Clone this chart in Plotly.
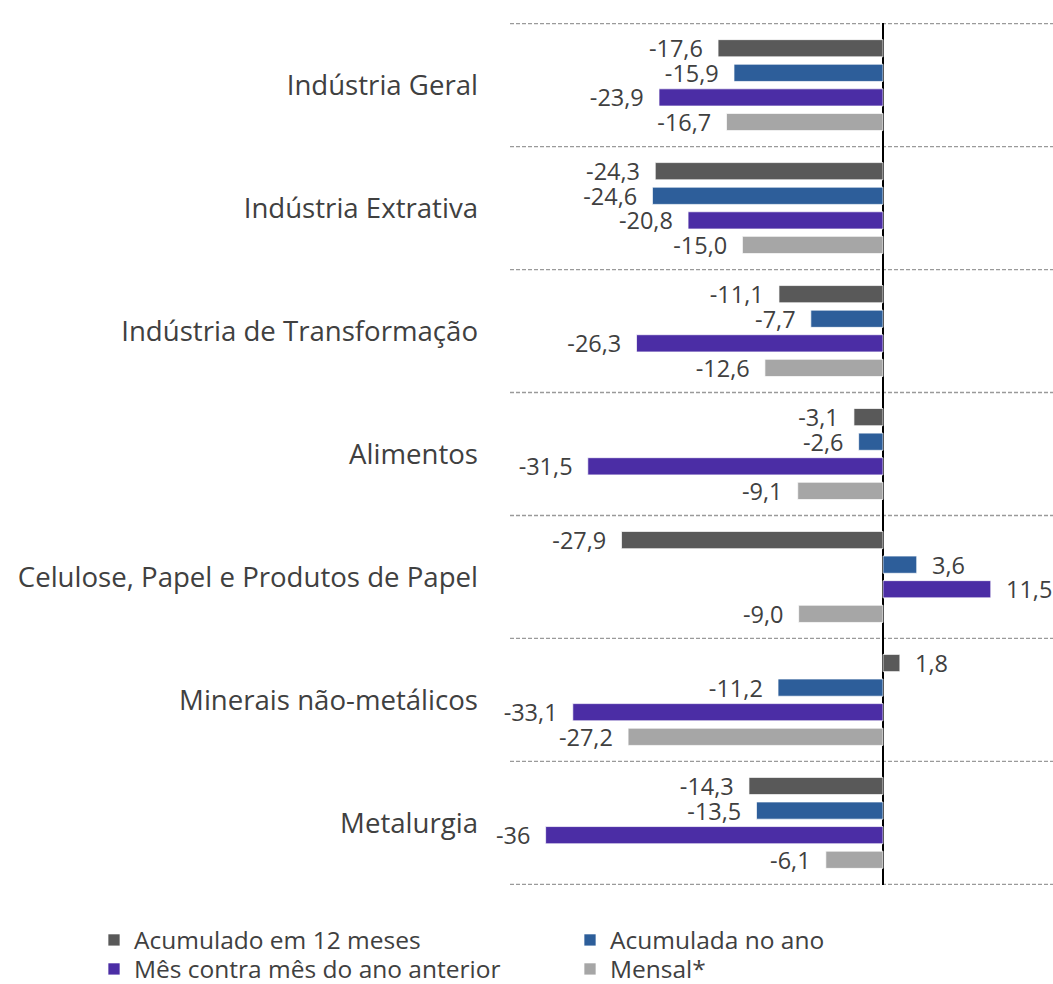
import plotly.graph_objects as go

categories = [
    "Indústria Geral",
    "Indústria Extrativa",
    "Indústria de Transformação",
    "Alimentos",
    "Celulose, Papel e Produtos de Papel",
    "Minerais não-metálicos",
    "Metalurgia",
]
series_names = [
    "Acumulado em 12 meses",
    "Acumulada no ano",
    "Mês contra mês do ano anterior",
    "Mensal*",
]
acum_12m = [-17.6, -24.3, -11.1, -3.1, -27.9, 1.8, -14.3]
acum_ano = [-15.9, -24.6, -7.7, -2.6, 3.6, -11.2, -13.5]
mes_mes = [-23.9, -20.8, -26.3, -31.5, 11.5, -33.1, -36]
mensal = [-16.7, -15.0, -12.6, -9.1, -9.0, -27.2, -6.1]

series_values = [acum_12m, acum_ano, mes_mes, mensal]
colors = ["#595959", "#2D5E9A", "#4B2DA5", "#A6A6A6"]
legend_ids = ["legend", "legend2", "legend3", "legend4"]

FONT = "Open Sans"
TXT = "#404040"
NB = "\u00a0\u00a0"

# plot area in pixels
W, H = 1053, 984
L, R, T, B = 510, 0, 23, 99
PW, PH = W - L - R, H - T - B


def fmt(v):
    s = str(v).replace(".", ",")
    return s + NB if v < 0 else NB + s


fig = go.Figure()
for name, vals, col, lg in zip(series_names, series_values, colors, legend_ids):
    fig.add_trace(go.Bar(
        y=categories,
        x=vals,
        orientation="h",
        name=name,
        marker=dict(color=col, line=dict(color="rgba(255,255,255,0.7)", width=1)),
        text=[fmt(v) for v in vals],
        textposition="outside",
        textfont=dict(family=FONT, size=23.5, color=TXT),
        constraintext="none",
        cliponaxis=False,
        legend=lg,
        hoverinfo="skip",
    ))

shapes = []
for i in range(len(categories) + 1):
    shapes.append(dict(
        type="line", xref="paper", x0=0, x1=1,
        yref="y", y0=i - 0.5, y1=i - 0.5,
        line=dict(color="#9A9A9A", width=1.3, dash="4px,2px"),
        layer="below",
    ))


def px_x(px):
    return (px - L) / PW


def px_y(py):
    return (H - B - py) / PH


legend_pos = [(94, 940), (570, 940), (94, 969), (570, 969)]
legend_layouts = {}
for lg, (lx, ly) in zip(legend_ids, legend_pos):
    legend_layouts[lg] = dict(
        orientation="v",
        x=px_x(lx), y=px_y(ly),
        xanchor="left", yanchor="middle",
        font=dict(family=FONT, size=24.5, color=TXT),
        bgcolor="rgba(0,0,0,0)",
        borderwidth=0,
    )

fig.update_layout(
    width=W,
    height=H,
    margin=dict(l=L, r=R, t=T, b=B, autoexpand=False),
    paper_bgcolor="white",
    plot_bgcolor="white",
    barmode="group",
    bargap=0.2,
    bargroupgap=0.3,
    font=dict(family=FONT, color=TXT),
    showlegend=True,
    shapes=shapes,
    xaxis=dict(
        range=[-39.8, 18.14],
        showgrid=False,
        showticklabels=False,
        ticks="",
        zeroline=True,
        zerolinecolor="#000000",
        zerolinewidth=1.6,
        fixedrange=True,
        automargin=False,
    ),
    yaxis=dict(
        categoryorder="array",
        categoryarray=categories,
        autorange="reversed",
        showgrid=False,
        ticks="",
        ticklabelstandoff=31,
        tickfont=dict(family=FONT, size=27.6, color=TXT),
        fixedrange=True,
        automargin=False,
    ),
    **legend_layouts,
)

fig.write_html(
    "out.html",
    config={"displayModeBar": False},
    post_script="document.body.style.margin='0';document.body.style.padding='0';",
)
